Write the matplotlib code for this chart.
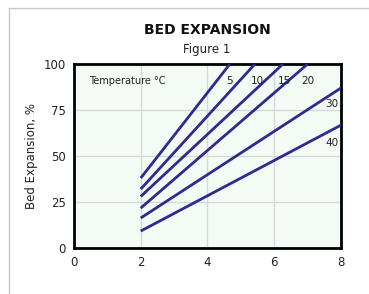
import matplotlib.pyplot as plt
from matplotlib.lines import Line2D

# Temperature lines: start/end points
temps = ["5", "10", "15", "20", "30", "40"]
x_start = [2.0, 2.0, 2.0, 2.0, 2.0, 2.0]
y_start = [38.0, 32.0, 28.0, 21.7, 16.3, 9.2]
x_end = [4.67, 5.42, 6.26, 7.0, 8.0, 8.0]
y_end = [100.0, 100.0, 100.0, 100.0, 87.0, 66.8]

label_x = [4.66, 5.5, 6.3, 7.02, 7.72, 7.72]
label_y = [91, 91, 91, 91, 78.5, 57]

line_color = "#2d2a92"

fig = plt.figure(figsize=(3.69, 2.94), dpi=100)
fig.patch.set_facecolor("white")

ax = fig.add_axes([0.2005, 0.1565, 0.7235, 0.6255])
ax.set_facecolor("#f4fbf4")

for i, t in enumerate(temps):
    ax.plot([x_start[i], x_end[i]], [y_start[i], y_end[i]], color=line_color,
            linewidth=2, solid_capstyle="butt", zorder=3)
    ax.text(label_x[i], label_y[i], t, fontsize=7.5, color="#222222",
            ha="center", va="center", zorder=4)

ax.text(0.45, 91, "Temperature \u00b0C", fontsize=7, color="#222222", va="center")

ax.set_xlim(0, 8)
ax.set_ylim(0, 100)
ax.set_xticks([0, 2, 4, 6, 8])
ax.set_yticks([0, 25, 50, 75, 100])
ax.grid(True, color="#d8d8d8", linewidth=1)
ax.set_axisbelow(True)
ax.tick_params(length=0, labelsize=8.5, colors="#222222", pad=6)
for s in ax.spines.values():
    s.set_linewidth(2)
    s.set_color("black")

ax.set_ylabel("Bed Expansion, %", fontsize=8.5, color="#222222", labelpad=4)

fig.text(0.561, 0.898, "BED EXPANSION", fontsize=10, fontweight="bold",
         ha="center", va="center", color="#111111")
fig.text(0.561, 0.833, "Figure 1", fontsize=8.5, ha="center", va="center",
         color="#222222")

# panel border at top and left
fig.add_artist(Line2D([9 / 369, 9 / 369], [0, 1 - 8 / 294], transform=fig.transFigure,
                      color="#c8c8c8", linewidth=1))
fig.add_artist(Line2D([9 / 369, 1], [1 - 8 / 294, 1 - 8 / 294], transform=fig.transFigure,
                      color="#c8c8c8", linewidth=1))

fig.savefig("out.png", dpi=100)
